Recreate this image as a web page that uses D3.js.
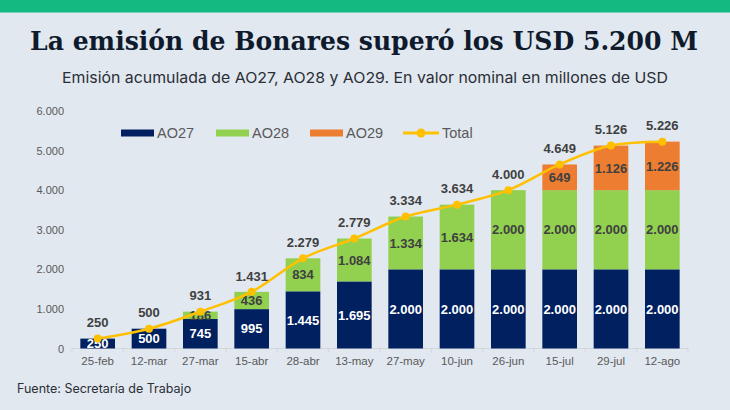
<!DOCTYPE html>
<html>
<head>
<meta charset="utf-8">
<script src="https://cdn.jsdelivr.net/npm/d3@7"></script>
<style>
  body { margin: 0; background: #e1e8f0; }
  svg { display: block; }
</style>
</head>
<body>
<svg id="chart" width="730" height="410"></svg>
<script>
// data
const dates = ["25-feb", "12-mar", "27-mar", "15-abr", "28-abr", "13-may", "27-may", "10-jun", "26-jun", "15-jul", "29-jul", "12-ago"];
const ao27 = [250, 500, 745, 995, 1445, 1695, 2000, 2000, 2000, 2000, 2000, 2000];
const ao28 = [0, 0, 186, 436, 834, 1084, 1334, 1634, 2000, 2000, 2000, 2000];
const ao29 = [0, 0, 0, 0, 0, 0, 0, 0, 0, 649, 1126, 1226];
const totals = [250, 500, 931, 1431, 2279, 2779, 3334, 3634, 4000, 4649, 5126, 5226];
const yTicks = [0, 1000, 2000, 3000, 4000, 5000, 6000];
const seriesNames = ["AO27", "AO28", "AO29"];

const colors = { AO27: "#002060", AO28: "#92d050", AO29: "#ed7d31", Total: "#ffc000" };
const labelFill = { AO27: "#ffffff", AO28: "#404040", AO29: "#404040" };

const svg = d3.select("#chart");
const fmt = d3.formatLocale({ decimal: ",", thousands: ".", grouping: [3], currency: ["", ""] }).format(",d");

// header
svg.append("rect").attr("width", 730).attr("height", 12.5).attr("fill", "#13b981");

svg.append("text")
    .attr("x", 364).attr("y", 50)
    .attr("text-anchor", "middle")
    .attr("font-family", "DejaVu Serif, serif")
    .attr("font-weight", "bold")
    .attr("font-size", 26)
    .attr("fill", "#0f1b2d")
    .attr("textLength", 668)
    .attr("lengthAdjust", "spacingAndGlyphs")
    .text("La emisión de Bonares superó los USD 5.200 M");

svg.append("text")
    .attr("x", 365).attr("y", 83)
    .attr("text-anchor", "middle")
    .attr("font-family", "Inter, sans-serif")
    .attr("font-size", 15)
    .attr("fill", "#2b2f36")
    .attr("textLength", 606)
    .attr("lengthAdjust", "spacingAndGlyphs")
    .text("Emisión acumulada de AO27, AO28 y AO29. En valor nominal en millones de USD");

svg.append("text")
    .attr("x", 17).attr("y", 393)
    .attr("font-family", "Inter, sans-serif")
    .attr("font-size", 12.5)
    .attr("fill", "#2b2f36")
    .text("Fuente: Secretaría de Trabajo");

// scales
const x = d3.scaleBand().domain(dates).range([72, 688]).paddingInner(0.325).paddingOuter(0.1625);
const y = d3.scaleLinear().domain([0, 6000]).range([348.5, 111]);

// y axis labels (no line)
svg.append("g")
    .attr("transform", "translate(64,0)")
    .call(d3.axisLeft(y).tickValues(yTicks).tickSize(0).tickPadding(0).tickFormat(fmt))
    .call(g => g.select(".domain").remove())
    .selectAll("text")
    .attr("font-family", "Liberation Sans, Arial, sans-serif")
    .attr("font-size", 11)
    .attr("fill", "#595959");

// x axis baseline with ticks at category boundaries
const xAxis = svg.append("g").attr("transform", `translate(0,${y(0)})`);
xAxis.append("line").attr("x1", 72).attr("x2", 688).attr("stroke", "#d3d7dc").attr("stroke-width", 1);
const step = x.step();
xAxis.selectAll("line.tk")
    .data(d3.range(dates.length + 1))
    .join("line")
    .attr("class", "tk")
    .attr("x1", i => 72 + i * step).attr("x2", i => 72 + i * step)
    .attr("y1", 0).attr("y2", 4)
    .attr("stroke", "#d3d7dc");
xAxis.call(g => g.append("g")
    .call(d3.axisBottom(x).tickSize(0).tickPadding(8))
    .call(a => a.select(".domain").remove())
    .selectAll("text")
    .attr("font-family", "Liberation Sans, Arial, sans-serif")
    .attr("font-size", 11.5)
    .attr("fill", "#595959"));

// stacked bars
const rows = dates.map((d, i) => ({ date: d, AO27: ao27[i], AO28: ao28[i], AO29: ao29[i] }));
const stack = d3.stack().keys(seriesNames)(rows);

const layers = svg.append("g").selectAll("g")
    .data(stack)
    .join("g")
    .attr("fill", d => colors[d.key]);

layers.selectAll("rect")
    .data(d => d.map(v => ({ key: d.key, v })))
    .join("rect")
    .filter(d => d.v[1] - d.v[0] > 0)
    .attr("x", d => x(d.v.data.date))
    .attr("width", x.bandwidth())
    .attr("y", d => y(d.v[1]))
    .attr("height", d => y(d.v[0]) - y(d.v[1]));

// segment labels
const segLabels = [];
stack.forEach(s => s.forEach(v => {
    if (v[1] - v[0] > 0) segLabels.push({ key: s.key, v });
}));
svg.append("g").selectAll("text")
    .data(segLabels)
    .join("text")
    .attr("x", d => x(d.v.data.date) + x.bandwidth() / 2)
    .attr("y", d => (y(d.v[0]) + y(d.v[1])) / 2)
    .attr("dy", "0.36em")
    .attr("text-anchor", "middle")
    .attr("font-family", "Liberation Sans, Arial, sans-serif")
    .attr("font-weight", "bold")
    .attr("font-size", 13)
    .attr("fill", d => labelFill[d.key])
    .text(d => fmt(d.v[1] - d.v[0]));

// total line
const pts = dates.map((d, i) => [x(d) + x.bandwidth() / 2, y(totals[i])]);
svg.append("path")
    .attr("d", d3.line().curve(d3.curveCatmullRom.alpha(0.5))(pts))
    .attr("fill", "none")
    .attr("stroke", colors.Total)
    .attr("stroke-width", 2.5);
svg.append("g").selectAll("circle")
    .data(pts)
    .join("circle")
    .attr("cx", d => d[0]).attr("cy", d => d[1])
    .attr("r", 4)
    .attr("fill", colors.Total);

// total labels
svg.append("g").selectAll("text")
    .data(dates)
    .join("text")
    .attr("x", d => x(d) + x.bandwidth() / 2)
    .attr("y", (d, i) => y(totals[i]) - 16)
    .attr("dy", "0.36em")
    .attr("text-anchor", "middle")
    .attr("font-family", "Liberation Sans, Arial, sans-serif")
    .attr("font-weight", "bold")
    .attr("font-size", 13)
    .attr("fill", "#404040")
    .text((d, i) => fmt(totals[i]));

// legend
const legend = svg.append("g").attr("transform", "translate(0,133)");
const legendItems = [
    { name: "AO27", x: 121 },
    { name: "AO28", x: 216 },
    { name: "AO29", x: 310 }
];
legendItems.forEach(it => {
    legend.append("rect")
        .attr("x", it.x).attr("y", -3.5)
        .attr("width", 33).attr("height", 7)
        .attr("fill", colors[it.name]);
    legend.append("text")
        .attr("x", it.x + 36).attr("y", 0)
        .attr("dy", "0.36em")
        .attr("font-family", "Liberation Sans, Arial, sans-serif")
        .attr("font-size", 14.5)
        .attr("fill", "#595959")
        .text(it.name);
});
legend.append("line")
    .attr("x1", 403).attr("x2", 439)
    .attr("stroke", colors.Total).attr("stroke-width", 3);
legend.append("circle").attr("cx", 421).attr("cy", 0).attr("r", 4.5).attr("fill", colors.Total);
legend.append("text")
    .attr("x", 442).attr("y", 0)
    .attr("dy", "0.36em")
    .attr("font-family", "Liberation Sans, Arial, sans-serif")
    .attr("font-size", 14.5)
    .attr("fill", "#595959")
    .text("Total");
</script>
</body>
</html>
